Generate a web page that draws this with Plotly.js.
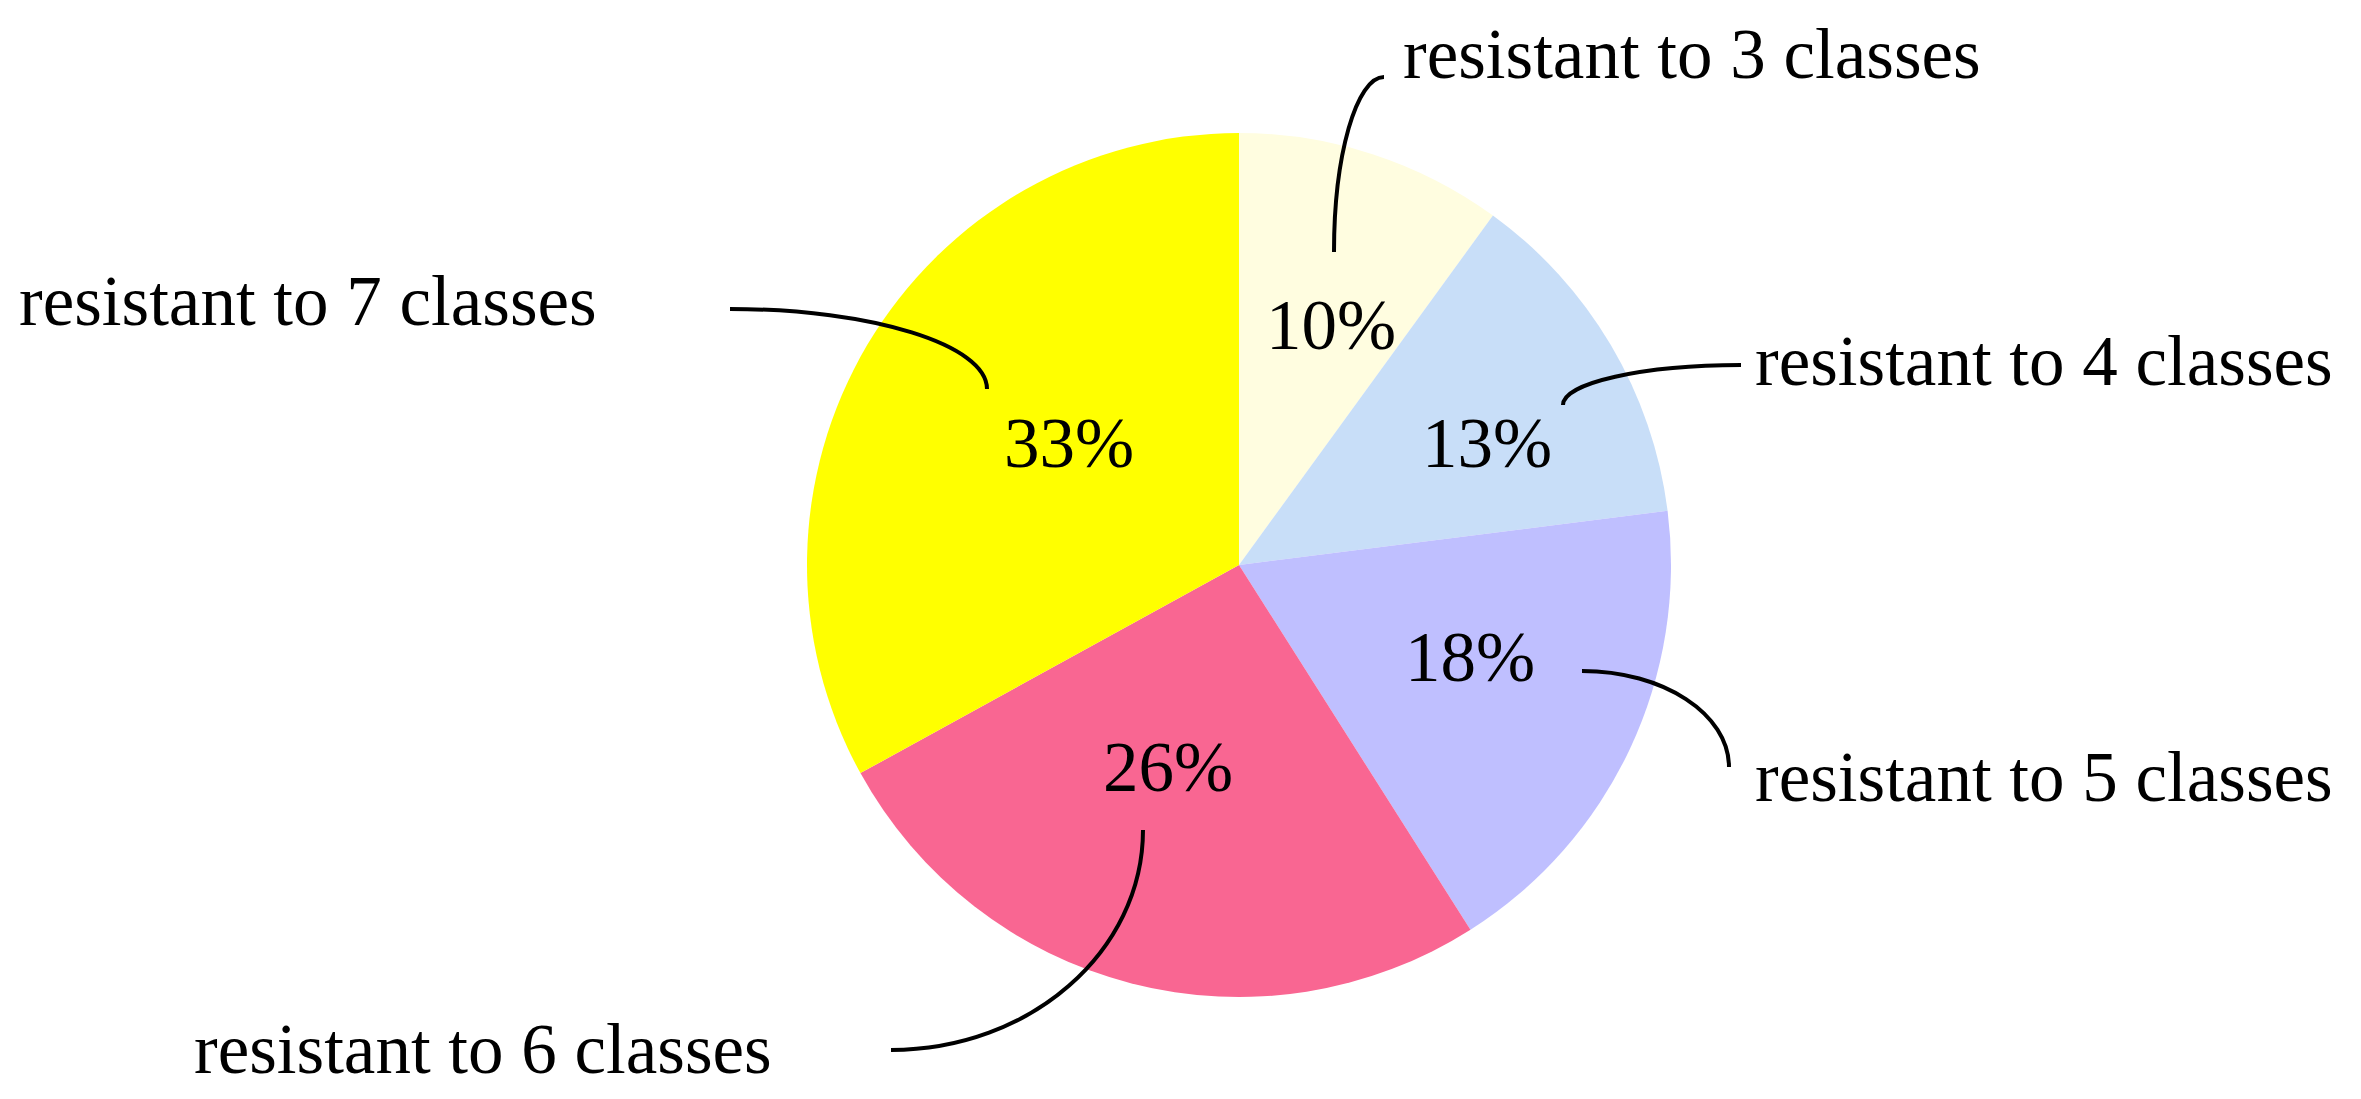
<!DOCTYPE html>
<html>
<head>
<meta charset="utf-8">
<script src="https://cdn.plot.ly/plotly-3.0.1.min.js"></script>
<style>
  html, body { margin: 0; padding: 0; background: #fff; }
  #chart { width: 2361px; height: 1099px; }
</style>
</head>
<body>
<div id="chart"></div>
<script>
var W = 2361, H = 1099;

// data
var labels = ['resistant to 3 classes', 'resistant to 4 classes', 'resistant to 5 classes',
              'resistant to 6 classes', 'resistant to 7 classes'];
var values = [10, 13, 18, 26, 33];
var colors = ['#FFFDE0', '#C8DEF8', '#BFBFFF', '#F96692', '#FFFF00'];

// placement in pixels: percent text centre, label left edge / middle,
// leader line inner end (in slice) and outer end (near label)
var pctPos = [[1331, 325], [1487, 443], [1470, 657], [1168, 767], [1069, 443]];
var labelX = [1401, 1753, 1753, 192, 17];
var labelY = [54, 361, 777, 1049, 301];
var innerPt = [[1334, 252], [1563, 405], [1582, 671], [1143, 830], [987, 389]];
var outerPt = [[1384, 77], [1741, 365], [1729, 767], [891, 1050], [730, 309]];
var vertFirst = [true, true, false, true, true];

var font = {family: 'Liberation Serif, Times New Roman, serif', size: 71, color: '#000'};

// pie centre and radius in pixels
var cx = 1239, cy = 565, R = 432;

function px(x) { return x / W; }
function py(y) { return 1 - y / H; }

var trace = {
  type: 'pie',
  labels: labels,
  values: values,
  sort: false,
  direction: 'clockwise',
  rotation: 0,
  marker: {colors: colors, line: {width: 0}},
  textinfo: 'none',
  hoverinfo: 'none',
  showlegend: false,
  domain: {x: [px(cx - R), px(cx + R)], y: [py(cy + R), py(cy - R)]}
};

var annotations = [];
labels.forEach(function (t, i) {
  annotations.push({
    text: t, x: px(labelX[i]), y: py(labelY[i]), xref: 'paper', yref: 'paper',
    xanchor: 'left', yanchor: 'middle', showarrow: false, font: font
  });
  annotations.push({
    text: values[i] + '%', x: px(pctPos[i][0]), y: py(pctPos[i][1]), xref: 'paper', yref: 'paper',
    xanchor: 'center', yanchor: 'middle', showarrow: false, font: font
  });
});

var k = 0.552;
var shapes = labels.map(function (t, i) {
  var a = innerPt[i], b = outerPt[i], c1, c2;
  if (vertFirst[i]) {
    c1 = [a[0], a[1] + k * (b[1] - a[1])];
    c2 = [b[0] - k * (b[0] - a[0]), b[1]];
  } else {
    c1 = [a[0] + k * (b[0] - a[0]), a[1]];
    c2 = [b[0], b[1] - k * (b[1] - a[1])];
  }
  var path = 'M ' + px(a[0]) + ' ' + py(a[1]) +
             ' C ' + px(c1[0]) + ' ' + py(c1[1]) + ', ' + px(c2[0]) + ' ' + py(c2[1]) +
             ', ' + px(b[0]) + ' ' + py(b[1]);
  return {type: 'path', xref: 'paper', yref: 'paper', path: path,
          line: {color: '#000', width: 4}};
});

var layout = {
  width: W, height: H,
  margin: {l: 0, r: 0, t: 0, b: 0},
  paper_bgcolor: '#fff',
  font: font,
  annotations: annotations,
  shapes: shapes
};

Plotly.newPlot('chart', [trace], layout, {displayModeBar: false, staticPlot: true});
</script>
</body>
</html>
